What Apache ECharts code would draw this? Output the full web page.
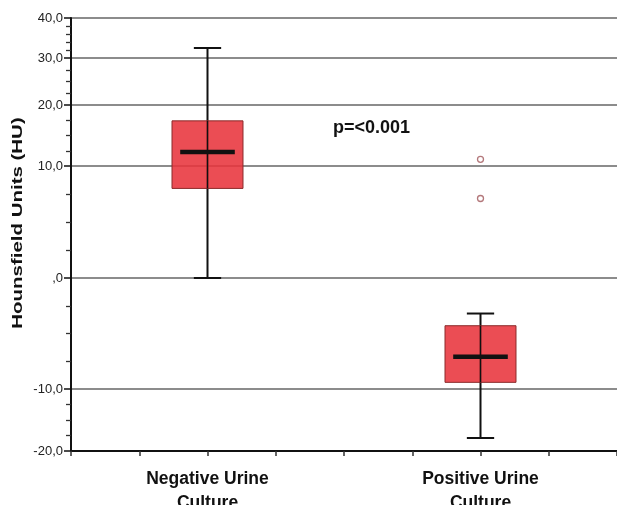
<!DOCTYPE html>
<html>
<head>
<meta charset="utf-8">
<script src="https://cdn.jsdelivr.net/npm/echarts@6/dist/echarts.min.js"></script>
<style>
  html, body { margin: 0; padding: 0; background: #fff; }
  #main { width: 617px; height: 505px; }
</style>
</head>
<body>
<div id="main"></div>
<script>
const categories = ['Negative Urine\nCulture', 'Positive Urine\nCulture'];
// [min, Q1, median, Q3, max] per group, in HU
const boxStats = [
  [0, 8.0, 12.3, 17.4, 32.5],
  [-17.9, -9.4, -7.1, -4.3, -3.2]
];
// [group index, value]
const outliers = [[1, 11.1], [1, 7.1]];
const tickValues = [-20, -10, 0, 10, 20, 30, 40];
const tickLabels = ['-20,0', '-10,0', ',0', '10,0', '20,0', '30,0', '40,0'];
const minorValues = [-17.5, -15, -12.5, -7.5, -5, -2.5, 2.5, 5, 7.5, 12.5, 15, 17.5, 22.5, 25, 27.5, 32, 34, 36, 38];

// the original axis is not evenly spaced: stops of a piecewise-linear scale
const scaleStops = [0, 62, 173, 285, 346, 393, 433];

function toScale(v) {
  for (let i = 0; i < tickValues.length - 1; i++) {
    if (v <= tickValues[i + 1] || i === tickValues.length - 2) {
      const f = (v - tickValues[i]) / (tickValues[i + 1] - tickValues[i]);
      return scaleStops[i] + f * (scaleStops[i + 1] - scaleStops[i]);
    }
  }
}

const chart = echarts.init(document.getElementById('main'));
const font = '"Liberation Sans", Arial, sans-serif';

const option = {
  animation: false,
  grid: { left: 71, right: 0, top: 18, bottom: 54, outerBoundsMode: 'none', containLabel: false },
  xAxis: [
    {
      type: 'category',
      data: categories,
      axisLine: { lineStyle: { color: '#111', width: 2 } },
      axisTick: { show: false },
      axisLabel: {
        color: '#111', fontFamily: font, fontWeight: 'bold', fontSize: 17.5,
        lineHeight: 24, margin: 16
      }
    },
    {
      type: 'value', min: 0, max: 8, interval: 1, position: 'bottom',
      axisLine: { show: false },
      axisTick: { show: true, length: 5, lineStyle: { color: '#333', width: 1.5 } },
      axisLabel: { show: false },
      splitLine: { show: false }
    }
  ],
  yAxis: [
    {
      type: 'value', min: 0, max: scaleStops[scaleStops.length - 1],
      axisLine: { show: true, lineStyle: { color: '#111', width: 2 } },
      axisTick: { show: true, length: 7, customValues: scaleStops, lineStyle: { color: '#111', width: 1.5 } },
      axisLabel: {
        customValues: scaleStops, color: '#222', fontFamily: font, fontSize: 13, margin: 8,
        formatter: (v) => tickLabels[scaleStops.indexOf(v)]
      },
      splitLine: { show: true, lineStyle: { color: '#666', width: 1.5 } }
    },
    {
      type: 'value', min: 0, max: scaleStops[scaleStops.length - 1], position: 'left',
      axisLine: { show: false },
      axisTick: { show: true, length: 5, customValues: minorValues.map(toScale), lineStyle: { color: '#333', width: 1.3 } },
      axisLabel: { show: false },
      splitLine: { show: false }
    }
  ],
  graphic: [
    {
      type: 'text', x: 18, y: 223, rotation: Math.PI / 2, scaleX: 1.32,
      style: {
        text: 'Hounsfield Units (HU)', fill: '#111', font: 'bold 15.5px ' + font,
        align: 'center', verticalAlign: 'middle'
      }
    },
    {
      type: 'text', left: 333, top: 119,
      style: { text: 'p=<0.001', fill: '#111', font: 'bold 18px ' + font }
    }
  ],
  series: [
    {
      type: 'custom',
      xAxisIndex: 0, yAxisIndex: 0,
      data: boxStats.map((s, i) => [i].concat(s)),
      renderItem: function (params, api) {
        const idx = api.value(0);
        const band = api.size([1, 0])[0];
        const pt = (k) => api.coord([idx, toScale(api.value(k))]);
        const low = pt(1), q1 = pt(2), med = pt(3), q3 = pt(4), high = pt(5);
        const x = low[0];
        const boxW = band * 0.26, capW = band * 0.1, medW = band * 0.2;
        const line = (x1, y1, x2, y2, w) => ({
          type: 'line', shape: { x1, y1, x2, y2 },
          style: { stroke: '#111', lineWidth: w }
        });
        return {
          type: 'group',
          children: [
            line(x, high[1], x, low[1], 2),
            line(x - capW / 2, high[1], x + capW / 2, high[1], 2),
            line(x - capW / 2, low[1], x + capW / 2, low[1], 2),
            {
              type: 'rect',
              shape: { x: x - boxW / 2, y: q3[1], width: boxW, height: q1[1] - q3[1] },
              style: { fill: 'rgba(232,52,60,0.88)', stroke: '#8a2a2a', lineWidth: 1 }
            },
            line(x, q3[1], x, q1[1], 1.5),
            line(x - medW / 2, med[1], x + medW / 2, med[1], 4.5)
          ]
        };
      }
    },
    {
      type: 'scatter',
      xAxisIndex: 0, yAxisIndex: 0,
      symbol: 'circle', symbolSize: 6,
      itemStyle: { color: '#fff', borderColor: '#a0565a', borderWidth: 1.3 },
      data: outliers.map(d => [d[0], toScale(d[1])])
    }
  ]
};

chart.setOption(option);
</script>
</body>
</html>
